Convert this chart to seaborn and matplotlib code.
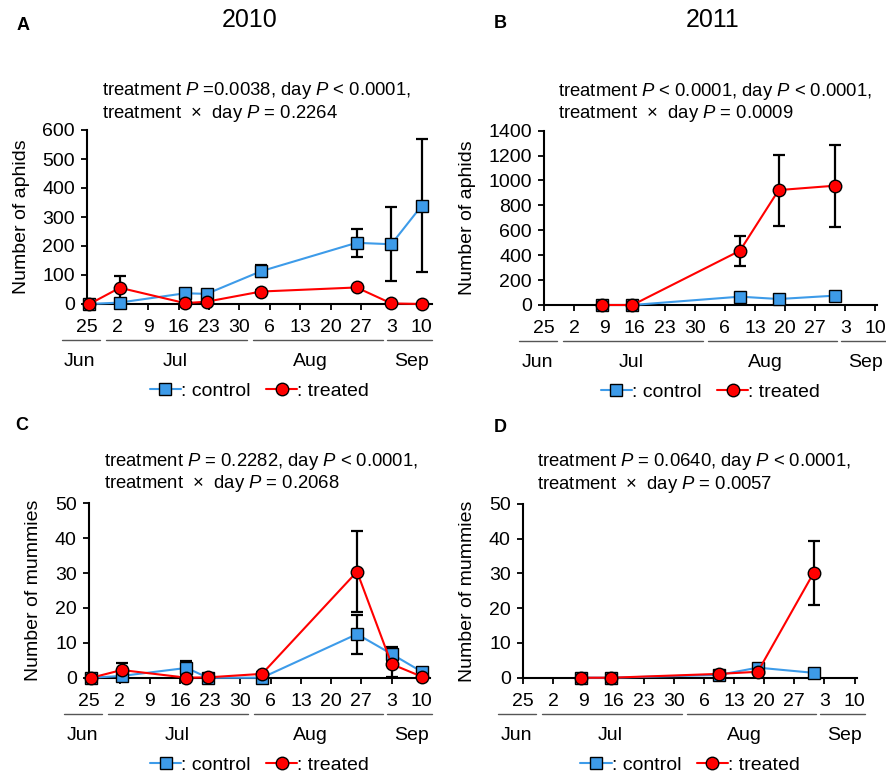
import numpy as np
import pandas as pd
import matplotlib
matplotlib.use("Agg")
import matplotlib.pyplot as plt
from matplotlib.lines import Line2D
import seaborn as sns

sns.set_theme(style="ticks")
plt.rcParams['font.family'] = ['Liberation Sans', 'DejaVu Sans']
plt.rcParams['mathtext.fontset'] = 'custom'
plt.rcParams['mathtext.it'] = 'Liberation Sans:italic'
plt.rcParams['mathtext.rm'] = 'Liberation Sans'
plt.rcParams['text.color'] = 'black'
plt.rcParams['axes.labelcolor'] = 'black'
plt.rcParams['xtick.color'] = 'black'
plt.rcParams['ytick.color'] = 'black'

# ---------------- data (days since 25 June) ----------------
tick_days = [0, 7, 14, 21, 28, 35, 42, 49, 56, 63, 70, 77]
tick_labels = ['25', '2', '9', '16', '23', '30', '6', '13', '20', '27', '3', '10']
months = ['Jun', 'Jul', 'Aug', 'Sep']

days_2010 = [0.5, 7.5, 22.5, 27.5, 40, 62, 70, 77]
aphid_ctrl_2010 = [0, 5, 37, 35, 113, 211, 206, 339]
aphid_ctrl_2010_se = [0, 3, 12, 6, 21, 48, 128, 229]
aphid_trt_2010 = [0, 56, 3, 8, 43, 57, 2, 0]
aphid_trt_2010_se = [0, 42, 2, 3, 5, 5, 1, 0]

mummy_ctrl_2010 = [0, 0.5, 2.8, 0, 0, 12.5, 6.8, 1.7]
mummy_ctrl_2010_se = [0, 0.3, 2.1, 0, 0, 5.6, 2.0, 0.8]
mummy_trt_2010 = [0, 2.2, 0, 0.1, 1.1, 30.4, 3.9, 0.3]
mummy_trt_2010_se = [0, 2.1, 0, 0, 0.5, 11.7, 3.6, 0.2]

days_2011 = [13.5, 20.5, 45.5, 54.5, 67.5]
aphid_ctrl_2011 = [0, 0, 67, 48, 75]
aphid_ctrl_2011_se = [0, 0, 15, 10, 20]
aphid_trt_2011 = [0, 0, 436, 923, 958]
aphid_trt_2011_se = [0, 0, 122, 285, 330]

mummy_ctrl_2011 = [0, 0, 0.8, 2.9, 1.4]
mummy_ctrl_2011_se = [0, 0, 0.3, 0.6, 0.4]
mummy_trt_2011 = [0, 0, 1.1, 1.7, 30.2]
mummy_trt_2011_se = [0, 0, 0.3, 0.5, 9.2]

stats_text = {
    'A': "treatment $P$ =0.0038, day $P$ < 0.0001,\ntreatment  \u00d7  day $P$ = 0.2264",
    'B': "treatment $P$ < 0.0001, day $P$ < 0.0001,\ntreatment  \u00d7  day $P$ = 0.0009",
    'C': "treatment $P$ = 0.2282, day $P$ < 0.0001,\ntreatment  \u00d7  day $P$ = 0.2068",
    'D': "treatment $P$ = 0.0640, day $P$ < 0.0001,\ntreatment  \u00d7  day $P$ = 0.0057",
}

BLUE = '#3d9be9'
RED = '#ff0000'
palette = {'control': BLUE, 'treated': RED}
markers = {'control': 's', 'treated': 'o'}

W, H = 887, 776
fig = plt.figure(figsize=(W / 100, H / 100), dpi=100)


def axes_px(left, right, top, bottom):
    return fig.add_axes([left / W, 1 - bottom / H, (right - left) / W, (bottom - top) / H])


def panel(ax, days, c, cse, t, tse, ymax, ystep, ylabel, xmax, letter, letter_xy, stats_off):
    df = pd.DataFrame({
        'day': list(days) * 2,
        'value': list(c) + list(t),
        'se': list(cse) + list(tse),
        'group': ['control'] * len(days) + ['treated'] * len(days),
    })
    for g, z in (('control', 2), ('treated', 3)):
        sub = df[df.group == g]
        ax.errorbar(sub.day, sub.value, yerr=sub.se, fmt='none', ecolor='black',
                    elinewidth=1.6, capsize=4, capthick=1.6, zorder=z - 0.5, clip_on=False)
    sns.lineplot(data=df, x='day', y='value', hue='group', style='group',
                 markers=markers, dashes=False, palette=palette, ax=ax,
                 legend=False, errorbar=None, markersize=9, markeredgecolor='black',
                 markeredgewidth=1.0, linewidth=1.5, clip_on=False, sort=True)
    for ln in ax.get_lines():
        if ln.get_marker() == 'o':
            ln.set_zorder(4)
        elif ln.get_marker() == 's':
            ln.set_zorder(3)
    ax.set_xlim(0, xmax)
    ax.set_ylim(0, ymax)
    ax.set_yticks(np.arange(0, ymax + 1, ystep))
    ax.set_xticks(tick_days)
    ax.set_xticklabels(tick_labels)
    ax.set_xlabel('')
    ax.set_ylabel(ylabel, fontsize=14, labelpad=9)
    ax.tick_params(axis='both', labelsize=14, width=1.3, length=4, color='black',
                   labelcolor='black', pad=5)
    ax.tick_params(axis='x', pad=7)
    for s in ('top', 'right'):
        ax.spines[s].set_visible(False)
    for s in ('left', 'bottom'):
        ax.spines[s].set_linewidth(1.5)
        ax.spines[s].set_color('black')
    ax.set_facecolor('white')
    # month separators and names
    tr = ax.get_xaxis_transform()
    ax_h = ax.get_position().height * H
    yline = -36 / ax_h
    ymon = -58 / ax_h
    for x0, x1 in ((-5.8, 3.0), (4.3, 36.8), (38.1, 68.1), (68.9, 79.4)):
        ax.add_line(Line2D([x0, x1], [yline, yline], transform=tr, color='#555555',
                           lw=1.0, clip_on=False))
    for name, xm in zip(months, (-1.7, 20.3, 51.3, 74.7)):
        ax.text(xm, ymon, name, transform=tr, ha='center', va='center', fontsize=14)
    # legend
    handles = [Line2D([], [], color=BLUE, marker='s', mfc=BLUE, mec='black', ms=9, lw=1.5),
               Line2D([], [], color=RED, marker='o', mfc=RED, mec='black', ms=9, lw=1.5)]
    ax.legend(handles, [': control', ': treated'], loc='center',
              bbox_to_anchor=(0.5, -87 / ax_h), ncol=2, frameon=False, fontsize=14,
              handlelength=1.6, handletextpad=0.0, columnspacing=0.8)
    # statistics text
    ax.text(0.042, 1.0 + stats_off / ax_h, stats_text[letter], transform=ax.transAxes,
            ha='left', va='center', fontsize=13.3, linespacing=1.08)
    fig.text(letter_xy[0] / W, 1 - letter_xy[1] / H, letter, fontsize=13,
             fontweight='bold', ha='center', va='center')


axA = axes_px(87.3, 431.7, 130, 304)
panel(axA, days_2010, aphid_ctrl_2010, aphid_ctrl_2010_se, aphid_trt_2010, aphid_trt_2010_se,
      600, 100, 'Number of aphids', 79.3, 'A', (23, 25), 28)
axB = axes_px(544.3, 876.7, 130.7, 305)
panel(axB, days_2011, aphid_ctrl_2011, aphid_ctrl_2011_se, aphid_trt_2011, aphid_trt_2011_se,
      1400, 200, 'Number of aphids', 77.3, 'B', (500, 23), 28.5)
axC = axes_px(89.3, 430, 503.3, 677.7)
panel(axC, days_2010, mummy_ctrl_2010, mummy_ctrl_2010_se, mummy_trt_2010, mummy_trt_2010_se,
      50, 10, 'Number of mummies', 78.9, 'C', (22, 425), 30.5)
axD = axes_px(523.3, 856.7, 504, 677.7)
panel(axD, days_2011, mummy_ctrl_2011, mummy_ctrl_2011_se, mummy_trt_2011, mummy_trt_2011_se,
      50, 10, 'Number of mummies', 77.5, 'D', (500, 427), 31)

fig.text(250 / W, 1 - 20 / H, '2010', fontsize=18, ha='center', va='center')
fig.text(713 / W, 1 - 20 / H, '2011', fontsize=18, ha='center', va='center')

fig.savefig('out.png', dpi=100, facecolor='white')
